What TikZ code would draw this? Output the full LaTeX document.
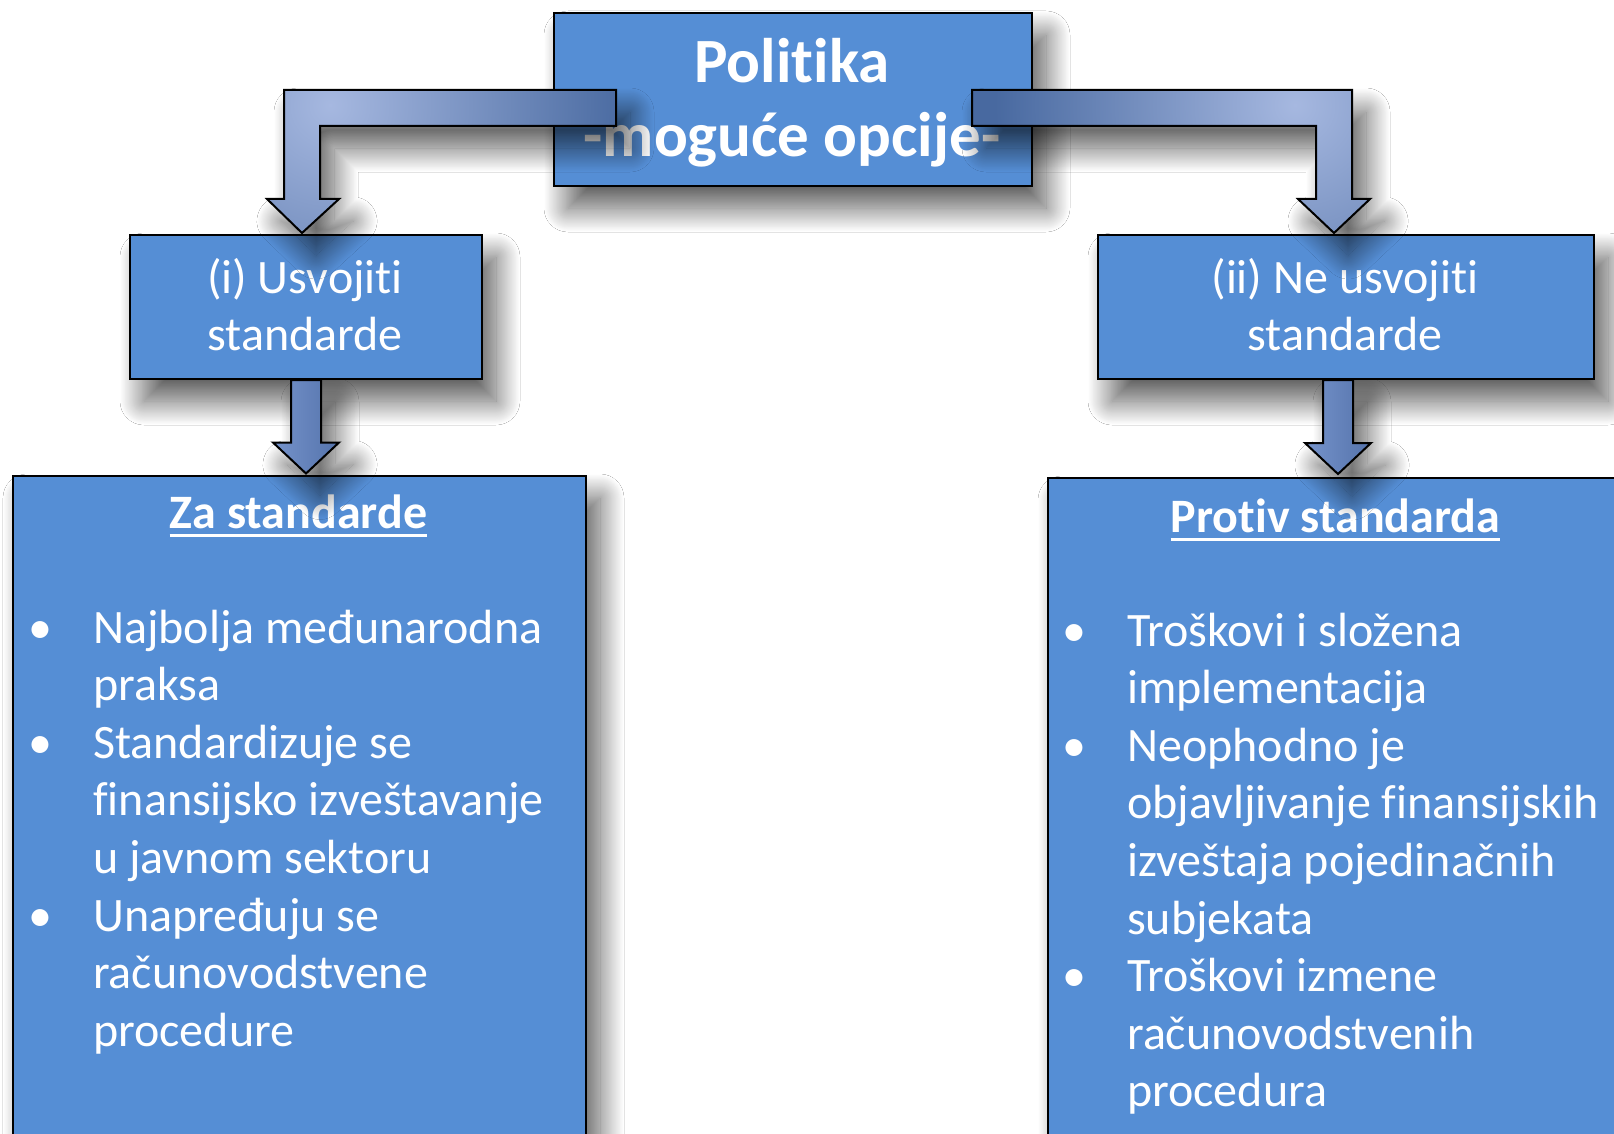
\documentclass[tikz,border=0pt]{standalone}
\usepackage{fontspec}
\setmainfont{Carlito}[Ligatures=NoCommon]
\usetikzlibrary{shadows.blur,calc}
\definecolor{boxblue}{RGB}{85,142,213}
\definecolor{arrlight}{RGB}{166,184,224}
\definecolor{arrdark}{RGB}{72,105,160}
\definecolor{sarrleft}{RGB}{118,148,204}
\definecolor{sarrmid}{RGB}{168,186,225}
\definecolor{sarrright}{RGB}{84,114,170}
\begin{document}
\begin{tikzpicture}[x=1pt,y=-1pt,
  shd/.style={blur shadow={shadow xshift=14pt, shadow yshift=-22pt, shadow blur radius=24pt, shadow blur steps=40, shadow opacity=65}},
  box/.style={draw=black, line width=2pt, fill=boxblue, rectangle, inner sep=0pt, shd},
  ashadow/.style={fill=arrdark, shd},
  arrowline/.style={draw=black, line width=2pt, line join=miter},
  lbl/.style={text=white, inner sep=0pt, font=\fontsize{48}{57.6}\selectfont},
  hdr/.style={text=white, inner sep=0pt, font=\fontsize{48}{57.6}\selectfont\bfseries},
  ttl/.style={text=white, inner sep=0pt, font=\fontsize{63}{74}\selectfont\bfseries}
]
\clip (0,0) rectangle (1614,1134);
\fill[white] (0,0) rectangle (1614,1134);

% boxes
\node[box, anchor=north west, minimum width=573pt, minimum height=700pt] (za) at (12,475) {};
\node[box, anchor=north west, minimum width=620pt, minimum height=700pt] (pr) at (1047,477) {};
\node[box, anchor=north west, minimum width=352pt, minimum height=144pt] (o1) at (129,234) {};
\node[box, anchor=north west, minimum width=496pt, minimum height=144pt] (o2) at (1097,234) {};
\node[box, anchor=north west, minimum width=478pt, minimum height=173pt] (top) at (553,12) {};

% texts
\node[ttl, anchor=base] (t1) at (792,83) {Politika};
\node[ttl, anchor=base] (t2) at (792,157) {-moguće opcije-};
\node[lbl, anchor=base] (o1a) at (305,293) {(i) Usvojiti};
\node[lbl, anchor=base] (o1b) at (305,350) {standarde};
\node[lbl, anchor=base] (o2a) at (1345,293) {(ii) Ne usvojiti};
\node[lbl, anchor=base] (o2b) at (1345,350) {standarde};
\node[hdr, anchor=base] (zah) at (298.5,528) {Za standarde};
\draw[white, line width=3pt] ($(zah.base west)+(0,7)$) -- ($(zah.base east)+(0,7)$);
\node[hdr, anchor=base] (prh) at (1335.5,532) {Protiv standarda};
\draw[white, line width=3pt] ($(prh.base west)+(0,7)$) -- ($(prh.base east)+(0,7)$);

\foreach \t [count=\i] in {Najbolja međunarodna, praksa, Standardizuje se, finansijsko izveštavanje, u javnom sektoru, Unapređuju se, računovodstvene, procedure}
  \node[lbl, anchor=base west] (L\i) at (93,{643+57.6*(\i-1)}) {\t};
\foreach \i in {1,3,6}
  \node[lbl, anchor=base] (bL\i) at (40,{643+57.6*(\i-1)}) {•};
\foreach \t [count=\i] in {Troškovi i složena, implementacija, Neophodno je, objavljivanje finansijskih, izveštaja pojedinačnih, subjekata, Troškovi izmene, računovodstvenih, procedura}
  \node[lbl, anchor=base west] (R\i) at (1127,{646+57.6*(\i-1)}) {\t};
\foreach \i in {1,3,7}
  \node[lbl, anchor=base] (bR\i) at (1074,{646+57.6*(\i-1)}) {•};

% small arrows
\coordinate (sLt) at ($(o1.south |- za.north)+(0,-1.5)$);
\fill[ashadow, save path=\arrSL] ($(o1.south)+(-15,0)$) -- ($(sLt)+(-15,-31)$) -- ($(sLt)+(-33,-31)$) -- (sLt)
  -- ($(sLt)+(33,-31)$) -- ($(sLt)+(15,-31)$) -- ($(o1.south)+(15,0)$) -- cycle;
\begin{scope}
  \clip[use path=\arrSL];
  \shade[left color=sarrleft, middle color=sarrmid, right color=sarrright] ($(o1.south)+(-34,0)$) rectangle ($(sLt)+(34,0)$);
\end{scope}
\draw[use path=\arrSL, arrowline];

\coordinate (sRb) at ($(o2.south)+(-8,0)$);
\coordinate (sRt) at ($(sRb |- pr.north)+(0,-3)$);
\fill[ashadow, save path=\arrSR] ($(sRb)+(-15,0)$) -- ($(sRt)+(-15,-31)$) -- ($(sRt)+(-33,-31)$) -- (sRt)
  -- ($(sRt)+(33,-31)$) -- ($(sRt)+(15,-31)$) -- ($(sRb)+(15,0)$) -- cycle;
\begin{scope}
  \clip[use path=\arrSR];
  \shade[left color=sarrleft, middle color=sarrmid, right color=sarrright] ($(sRb)+(-34,0)$) rectangle ($(sRt)+(34,0)$);
\end{scope}
\draw[use path=\arrSR, arrowline];

% elbow arrows
\coordinate (Ls) at ($(top.north west)+(63,78)$);
\coordinate (Lt) at ($(o1.north)+(-4,-1)$);
\fill[ashadow, save path=\arrL] (Ls) -- ($(Ls -| Lt)+(-18,0)$) -- ($(Lt)+(-18,-34)$) -- ($(Lt)+(-35,-34)$) -- (Lt)
  -- ($(Lt)+(37,-34)$) -- ($(Lt)+(18,-34)$) -- ($(Ls -| Lt)+(18,36)$) -- ($(Ls)+(0,36)$) -- cycle;
\begin{scope}
  \clip[use path=\arrL];
  \shade[inner color=arrlight, outer color=arrdark] (330,105) circle (300);
\end{scope}
\draw[use path=\arrL, arrowline];

\coordinate (Rs) at ($(top.north east)+(-61,78)$);
\coordinate (Rt) at ($(o2.north)+(-12,-1)$);
\fill[ashadow, save path=\arrR] (Rs) -- ($(Rs -| Rt)+(18,0)$) -- ($(Rt)+(18,-34)$) -- ($(Rt)+(36,-34)$) -- (Rt)
  -- ($(Rt)+(-36,-34)$) -- ($(Rt)+(-18,-34)$) -- ($(Rs -| Rt)+(-18,36)$) -- ($(Rs)+(0,36)$) -- cycle;
\begin{scope}
  \clip[use path=\arrR];
  \shade[inner color=arrlight, outer color=arrdark] (1295,105) circle (300);
\end{scope}
\draw[use path=\arrR, arrowline];
\end{tikzpicture}
\end{document}
